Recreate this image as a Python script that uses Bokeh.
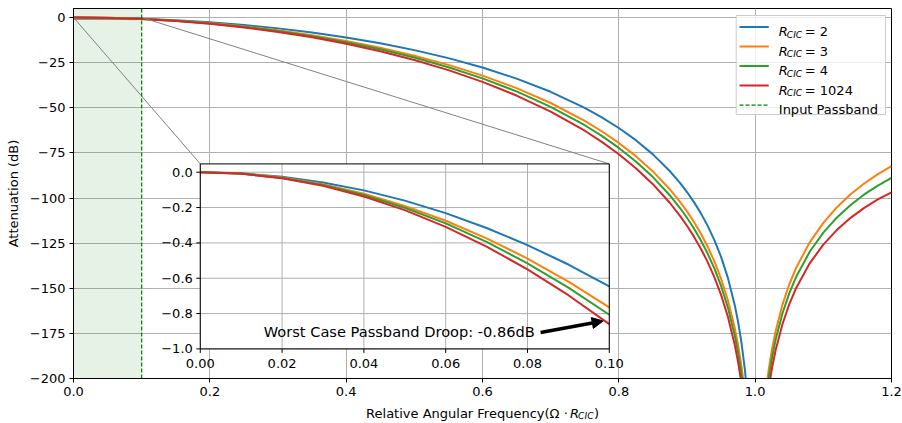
import math
from bokeh.plotting import figure
from bokeh.layouts import column
from bokeh.models import (Range1d, FixedTicker, CustomJSTickFormatter, Label, Arrow,
                          NormalHead, BoxAnnotation, Span)
from bokeh.embed import file_html
from bokeh.resources import INLINE

# ---------------- data (attenuation in dB) ----------------
X_LEFT = [0.0, 0.05, 0.1, 0.15, 0.2, 0.25, 0.3, 0.35, 0.4, 0.45, 0.5, 0.55, 0.6, 0.65,
          0.7, 0.75, 0.775, 0.8, 0.825, 0.85, 0.875, 0.89, 0.9, 0.91, 0.92, 0.93, 0.94,
          0.95, 0.96, 0.97, 0.975, 0.98, 0.985, 0.99]
R2_LEFT = [0.0, -0.161, -0.646, -1.460, -2.615, -4.126, -6.014, -8.308, -11.045, -14.275,
           -18.062, -22.495, -27.694, -33.829, -41.154, -50.059, -55.293, -61.202, -67.959,
           -75.818, -85.172, -91.758, -96.68, -102.131, -108.23, -115.158, -123.17,
           -132.64, -144.25, -159.23, -168.73, -180.35, -195.34, -216.47]
R3_LEFT = [0.0, -0.191, -0.765, -1.729, -3.094, -4.876, -7.098, -9.788, -12.987, -16.746,
           -21.131, -26.233, -32.176, -39.133, -47.361, -57.255, -63.016, -69.476, -76.810,
           -85.269, -95.250, -102.226, -107.41, -113.131, -119.51, -126.711, -135.00,
           -144.77, -156.67, -171.94, -181.59, -193.37, -208.51, -229.79]
R4_LEFT = [0.0, -0.201, -0.806, -1.823, -3.261, -5.137, -7.475, -10.302, -13.660, -17.600,
           -22.188, -27.516, -33.708, -40.938, -49.463, -59.678, -65.610, -72.247, -79.763,
           -88.41, -98.590, -105.686, -110.95, -116.758, -123.22, -130.510, -138.88,
           -148.74, -160.73, -176.09, -185.79, -197.61, -212.80, -234.12]
R1024_LEFT = [0.0, -0.215, -0.860, -1.943, -3.475, -5.473, -7.958, -10.960, -14.520, -18.689,
              -23.534, -29.147, -35.651, -43.222, -52.115, -62.728, -68.869, -75.723, -83.462,
              -92.343, -102.759, -110.002, -115.37, -121.272, -127.83, -135.229, -143.71,
              -153.67, -165.76, -181.24, -190.98, -202.86, -218.10, -239.48]

X_RIGHT = [1.01, 1.015, 1.02, 1.025, 1.03, 1.04, 1.05, 1.06, 1.08, 1.1, 1.12, 1.14, 1.16, 1.18, 1.2]
R3_RIGHT = [-230.42, -209.45, -194.63, -183.17, -173.84, -159.19, -147.92, -138.79, -124.56,
            -113.74, -105.09, -97.96, -91.94, -86.79, -82.33]
R4_RIGHT = [-234.94, -214.02, -199.25, -187.83, -178.55, -164.00, -152.83, -143.80, -129.78,
            -119.17, -110.74, -103.83, -98.03, -93.11, -88.90]
R1024_RIGHT = [-240.52, -219.66, -204.94, -193.59, -184.36, -169.94, -158.88, -149.97, -136.19,
               -125.83, -117.64, -110.98, -105.45, -100.80, -96.85]

X_INSET = [0.0, 0.01, 0.02, 0.03, 0.04, 0.05, 0.06, 0.07, 0.08, 0.09, 0.1]
R2_IN = [0.0, -0.0064, -0.0257, -0.0579, -0.1029, -0.1609, -0.2318, -0.3157, -0.4126, -0.5225, -0.6456]
R3_IN = [0.0, -0.0076, -0.0305, -0.0686, -0.1220, -0.1907, -0.2747, -0.3741, -0.4888, -0.6191, -0.7648]
R4_IN = [0.0, -0.0080, -0.0322, -0.0724, -0.1287, -0.2011, -0.2897, -0.3945, -0.5155, -0.6528, -0.8065]
R1024_IN = [0.0, -0.0086, -0.0343, -0.0772, -0.1372, -0.2145, -0.3090, -0.4207, -0.5498, -0.6962, -0.8601]

R_VALUES = ["2", "3", "4", "1024"]
COLORS = ["#1f77b4", "#ff7f0e", "#2ca02c", "#d62728"]
PASSBAND = 0.1
PASSBAND_LABEL = "Input Passband"
Y_LABEL = "Attenuation (dB)"

X_TICKS = [0.0, 0.2, 0.4, 0.6, 0.8, 1.0, 1.2]
Y_TICKS = [0, -25, -50, -75, -100, -125, -150, -175, -200]
INSET_X_TICKS = [0.0, 0.02, 0.04, 0.06, 0.08, 0.1]
INSET_Y_TICKS = [0.0, -0.2, -0.4, -0.6, -0.8, -1.0]

# ---------------- layout ----------------
FONT = "DejaVu Sans"
W = 902
H_MAIN, H_XLAB = 402, 21
BL, BR, BT, BB = 73, 11, 8, 24
FRAME_W = W - BL - BR
FRAME_H = H_MAIN - BT - BB
X_RANGE = (0.0, 1.2)
Y_RANGE = (-200.0, 5.0)
INSET_XLIM = (0.0, 0.1)
INSET_YLIM = (-1.0, 0.047)
INSET_FRAC = (0.155, 0.08, 0.5, 0.5)  # left, bottom, width, height (frame fractions)


def fx(px):
    return X_RANGE[0] + px / FRAME_W * (X_RANGE[1] - X_RANGE[0])


def fy(py):
    return Y_RANGE[1] - py / FRAME_H * (Y_RANGE[1] - Y_RANGE[0])


fl, fb, fw, fh = INSET_FRAC
ixspan = INSET_XLIM[1] - INSET_XLIM[0]
iyspan = INSET_YLIM[1] - INSET_YLIM[0]
IX = (INSET_XLIM[0] - fl / fw * ixspan, INSET_XLIM[0] + (1 - fl) / fw * ixspan)
IY = (INSET_YLIM[0] - fb / fh * iyspan, INSET_YLIM[0] + (1 - fb) / fh * iyspan)
inset_left_main = X_RANGE[0] + fl * (X_RANGE[1] - X_RANGE[0])
inset_right_main = X_RANGE[0] + (fl + fw) * (X_RANGE[1] - X_RANGE[0])
inset_top_main = Y_RANGE[0] + (fb + fh) * (Y_RANGE[1] - Y_RANGE[0])

xr = Range1d(*X_RANGE)
p = figure(width=W, height=H_MAIN, output_backend="svg", toolbar_location=None,
           x_range=xr, y_range=Range1d(*Y_RANGE),
           min_border_left=BL, min_border_right=BR, min_border_top=BT, min_border_bottom=BB)
p.extra_x_ranges = {"ix": Range1d(*IX)}
p.extra_y_ranges = {"iy": Range1d(*IY)}
p.background_fill_color = "white"
p.border_fill_color = "white"
p.outline_line_color = "black"
p.outline_line_width = 1

for ax in (p.xaxis[0], p.yaxis[0]):
    ax.major_label_text_font = FONT
    ax.major_label_text_font_size = "13px"
    ax.major_label_text_color = "black"
    ax.axis_line_color = "black"
    ax.major_tick_line_color = "black"
    ax.major_tick_out = 4
    ax.major_tick_in = 0
    ax.minor_tick_line_color = None
    ax.major_label_standoff = 4
p.xaxis.ticker = FixedTicker(ticks=X_TICKS)
p.xaxis.formatter = CustomJSTickFormatter(code="return tick.toFixed(1);")
p.yaxis.ticker = FixedTicker(ticks=Y_TICKS)
p.yaxis.formatter = CustomJSTickFormatter(
    code="return (tick < 0 ? '\\u2212' : '') + Math.abs(tick).toFixed(0);")
p.yaxis.axis_label = Y_LABEL
p.yaxis.axis_label_text_font = FONT
p.yaxis.axis_label_text_font_size = "13px"
p.yaxis.axis_label_text_font_style = "normal"
p.yaxis.axis_label_text_color = "black"
p.yaxis.axis_label_standoff = 6
p.grid.grid_line_color = "#b0b0b0"
p.grid.grid_line_width = 1

# passband shading
p.add_layout(BoxAnnotation(left=0.0, right=PASSBAND, fill_color="green", fill_alpha=0.1,
                           line_color=None, level="underlay"))

# zoom rectangle
p.quad(left=[INSET_XLIM[0]], right=[INSET_XLIM[1]], bottom=[INSET_YLIM[0]], top=[INSET_YLIM[1]],
       fill_color=None, line_color="#808080", line_width=1)

lefts = [R2_LEFT, R3_LEFT, R4_LEFT, R1024_LEFT]
rights = [None, R3_RIGHT, R4_RIGHT, R1024_RIGHT]
insets = [R2_IN, R3_IN, R4_IN, R1024_IN]
for col, yl, yrr in zip(COLORS, lefts, rights):
    p.line(X_LEFT, yl, line_color=col, line_width=2)
    if yrr is not None:
        p.line(X_RIGHT, yrr, line_color=col, line_width=2)

p.add_layout(Span(location=PASSBAND, dimension="height", line_color="green",
                  line_dash="4 2", line_width=1.25))

# connector lines to the inset
p.segment(x0=[INSET_XLIM[0], INSET_XLIM[1]], y0=[INSET_YLIM[1], INSET_YLIM[1]],
          x1=[inset_left_main, inset_right_main], y1=[inset_top_main, inset_top_main],
          line_color="#808080", line_width=1)

# ---------------- inset ----------------
p.quad(left=[INSET_XLIM[0]], right=[INSET_XLIM[1]], bottom=[INSET_YLIM[0]], top=[INSET_YLIM[1]],
       fill_color="white", line_color=None, x_range_name="ix", y_range_name="iy")
p.segment(x0=INSET_X_TICKS, x1=INSET_X_TICKS, y0=[INSET_YLIM[0]] * len(INSET_X_TICKS),
          y1=[INSET_YLIM[1]] * len(INSET_X_TICKS), line_color="#b0b0b0", line_width=1,
          x_range_name="ix", y_range_name="iy")
p.segment(x0=[INSET_XLIM[0]] * len(INSET_Y_TICKS), x1=[INSET_XLIM[1]] * len(INSET_Y_TICKS),
          y0=INSET_Y_TICKS, y1=INSET_Y_TICKS, line_color="#b0b0b0", line_width=1,
          x_range_name="ix", y_range_name="iy")
for col, yi in zip(COLORS, insets):
    p.line(X_INSET, yi, line_color=col, line_width=2, x_range_name="ix", y_range_name="iy")
p.quad(left=[INSET_XLIM[0]], right=[INSET_XLIM[1]], bottom=[INSET_YLIM[0]], top=[INSET_YLIM[1]],
       fill_color=None, line_color="black", line_width=1, x_range_name="ix", y_range_name="iy")
p.ray(x=INSET_X_TICKS, y=[INSET_YLIM[0]] * len(INSET_X_TICKS), length=4, length_units="screen",
      angle=-math.pi / 2, line_color="black", line_width=1, x_range_name="ix", y_range_name="iy")
p.ray(x=[INSET_XLIM[0]] * len(INSET_Y_TICKS), y=INSET_Y_TICKS, length=4, length_units="screen",
      angle=math.pi, line_color="black", line_width=1, x_range_name="ix", y_range_name="iy")


def add_label(fig, text, x, y, xo=0.0, yo=0.0, size="13px", style="normal", align="left",
              baseline="alphabetic", xrn="default", yrn="default"):
    fig.add_layout(Label(x=x, y=y, x_offset=xo, y_offset=yo, text=text, text_font=FONT,
                         text_font_size=size, text_font_style=style, text_color="black",
                         text_align=align, text_baseline=baseline,
                         x_range_name=xrn, y_range_name=yrn))


for t in INSET_X_TICKS:
    add_label(p, f"{t:.2f}", t, INSET_YLIM[0], yo=-10, align="center", baseline="top",
              xrn="ix", yrn="iy")
for t in INSET_Y_TICKS:
    s = f"{abs(t):.1f}"
    if t < 0:
        s = "\u2212" + s
    add_label(p, s, INSET_XLIM[0], t, xo=-7.5, align="right", baseline="middle",
              xrn="ix", yrn="iy")

# annotation
droop = R1024_IN[-1]
add_label(p, f"Worst Case Passband Droop: {droop:.2f}dB", 0.0818, droop - 0.04, size="14.6px",
          align="right", baseline="middle", xrn="ix", yrn="iy")
p.add_layout(Arrow(end=NormalHead(size=11, fill_color="black", line_color="black"),
                   x_start=0.0832, y_start=droop - 0.047, x_end=X_INSET[-1] - 0.0015,
                   y_end=droop + 0.018, line_width=3.5, line_color="black",
                   x_range_name="ix", y_range_name="iy"))

# ---------------- legend (manual, for subscripts) ----------------
p.quad(left=[fx(662.7)], right=[fx(812)], top=[fy(7)], bottom=[fy(106)],
       fill_color="white", fill_alpha=0.8, line_color="#cccccc", line_width=1)
row_y = [fy(18.5 + 19.5 * i) for i in range(5)]
for i, col in enumerate(COLORS):
    p.segment(x0=[fx(666)], x1=[fx(695.3)], y0=[row_y[i]], y1=[row_y[i]],
              line_color=col, line_width=2)
p.segment(x0=[fx(666)], x1=[fx(695.3)], y0=[row_y[4]], y1=[row_y[4]],
          line_color="green", line_width=1.25, line_dash="4 2")
tx = fx(705.3)
for i, rv in enumerate(R_VALUES):
    add_label(p, "R", tx, row_y[i], yo=-4.7, style="italic")
    add_label(p, "CIC", tx, row_y[i], xo=8.0, yo=-7.5, size="9.1px", style="italic")
    add_label(p, "= " + rv, tx, row_y[i], xo=26.0, yo=-4.7)
add_label(p, PASSBAND_LABEL, tx, row_y[4], yo=-4.7)

# ---------------- x axis label strip (separate canvas so it is not clipped) ----------------
q = figure(width=W, height=H_XLAB, output_backend="svg", toolbar_location=None,
           x_range=xr, y_range=Range1d(0, 1), x_axis_location=None, y_axis_location=None,
           min_border_left=BL, min_border_right=BR, min_border_top=0, min_border_bottom=0)
q.outline_line_color = None
q.grid.visible = False
q.background_fill_color = "white"
q.border_fill_color = "white"
xc = fx(FRAME_W / 2)
S = -116.4
YB = 10
add_label(q, "Relative Angular Frequency(\u03a9", xc, 0, xo=S, yo=YB)
add_label(q, "\u00b7", xc, 0, xo=S + 199.7, yo=YB, align="center")
add_label(q, "R", xc, 0, xo=S + 203.9, yo=YB, style="italic")
add_label(q, "CIC", xc, 0, xo=S + 212.0, yo=YB - 2.8, size="9.1px", style="italic")
add_label(q, ")", xc, 0, xo=S + 227.9, yo=YB)

layout = column(p, q, spacing=0)
open("out.html", "w", encoding="utf-8").write(file_html(layout, INLINE))
